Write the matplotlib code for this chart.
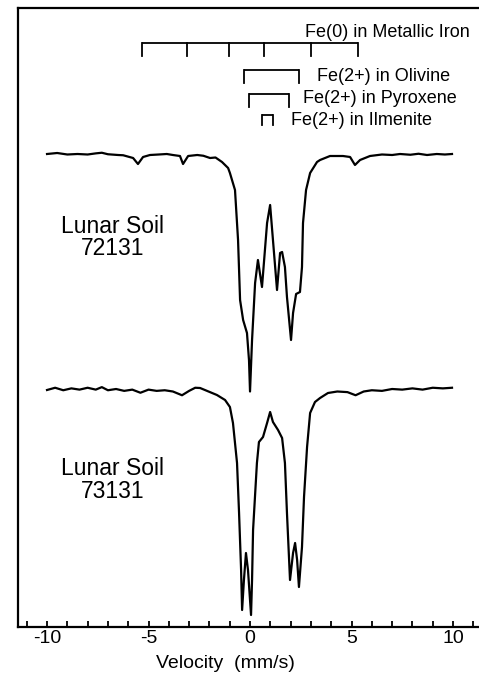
import matplotlib
matplotlib.use('Agg')
import matplotlib.pyplot as plt
import matplotlib.transforms as mtransforms
from matplotlib.ticker import MultipleLocator

plt.rcParams['font.family'] = ['Liberation Sans', 'DejaVu Sans']

# velocity (mm/s) and relative transmission (%)
v1 = [-10.0, -9.5, -9.0, -8.5, -8.0, -7.6, -7.3, -7.0, -6.5, -6.25,
      -5.76, -5.52, -5.27, -4.93, -4.5, -4.1, -3.8, -3.45, -3.3, -3.05,
      -2.6, -2.3, -1.97, -1.7, -1.38, -1.08, -0.99, -0.74, -0.59, -0.49,
      -0.34, -0.15, -0.05, 0.0, 0.1, 0.25, 0.39, 0.59, 0.84, 0.99,
      1.13, 1.33, 1.48, 1.58, 1.72, 1.82, 2.02, 2.12, 2.27, 2.46,
      2.56, 2.61, 2.76, 2.96, 3.3, 3.45, 3.94, 4.58, 4.93, 5.17,
      5.42, 5.91, 6.5, 7.0, 7.39, 7.9, 8.3, 8.72, 9.2, 9.6,
      9.95]
t1 = [100.0, 100.08, 99.96, 100.0, 99.96, 100.05, 100.1, 99.98, 99.92, 99.9,
      99.68, 99.2, 99.76, 99.92, 99.96, 100.0, 99.92, 99.84, 99.2, 99.84,
      99.92, 99.86, 99.68, 99.72, 99.36, 98.88, 98.48, 97.12, 93.12, 88.32,
      86.72, 85.68, 83.5, 81.0, 85.12, 89.68, 91.52, 89.36, 94.48, 95.92,
      93.12, 89.12, 92.08, 92.16, 90.96, 88.56, 85.12, 87.28, 88.8, 88.96,
      90.96, 94.48, 97.12, 98.48, 99.36, 99.52, 99.84, 99.84, 99.76, 99.12,
      99.52, 99.84, 99.96, 99.92, 100.0, 99.94, 100.02, 99.92, 100.0, 99.96,
      100.0]

v2 = [-10.0, -9.6, -9.2, -8.8, -8.4, -8.0, -7.6, -7.3, -7.0, -6.6,
      -6.2, -5.8, -5.4, -5.0, -4.6, -4.2, -3.8, -3.35, -3.0, -2.7,
      -2.46, -1.63, -1.23, -0.99, -0.84, -0.64, -0.54, -0.44, -0.39, -0.30,
      -0.20, -0.10, 0.05, 0.10, 0.15, 0.34, 0.44, 0.64, 0.84, 0.99,
      1.13, 1.38, 1.58, 1.72, 1.82, 1.97, 2.12, 2.22, 2.32, 2.41,
      2.56, 2.66, 2.81, 2.96, 3.20, 3.45, 3.84, 4.3, 4.8, 5.2,
      5.6, 6.0, 6.5, 7.0, 7.5, 8.0, 8.5, 9.0, 9.5, 9.95]
t2 = [99.92, 100.1, 99.9, 100.05, 99.95, 100.1, 99.95, 100.15, 99.9, 100.0,
      99.85, 99.95, 99.7, 99.95, 99.85, 99.9, 99.8, 99.5, 99.85, 100.1,
      100.08, 99.52, 99.12, 98.56, 97.28, 94.08, 90.08, 85.52, 82.32, 84.72,
      86.88, 85.52, 81.92, 84.72, 88.72, 94.08, 95.76, 96.16, 97.28, 98.16,
      97.36, 96.72, 96.08, 94.08, 90.08, 84.72, 86.88, 87.68, 86.32, 84.16,
      87.36, 91.36, 95.36, 98.08, 98.96, 99.28, 99.68, 99.8, 99.75, 99.5,
      99.8, 99.9, 99.85, 100.0, 99.95, 100.05, 99.95, 100.1, 100.05, 100.1]
offset2 = 18.8

# line positions of the stick diagram (mm/s)
iron_lines = [-5.3, -3.1, -1.05, 0.7, 3.0, 5.3]
olivine_lines = [-0.3, 2.41]
pyroxene_lines = [-0.05, 1.92]
ilmenite_lines = [0.59, 1.13]

fig = plt.figure(figsize=(4.79, 6.74), dpi=100)
ax = fig.add_axes([18 / 479, 47 / 674, 461 / 479, 619 / 674])

ax.plot(v1, t1, color='black', lw=1.6)
ax.plot(v2, [t - offset2 for t in t2], color='black', lw=1.6)

ax.set_xlim(-11.43, 11.28)
ax.set_ylim(62.16, 111.68)
ax.spines['right'].set_visible(False)
for s in ['left', 'top', 'bottom']:
    ax.spines[s].set_linewidth(1.6)
ax.set_yticks([])
ax.set_xticks([-10, -5, 0, 5, 10])
ax.set_xticklabels(['-10', '-5', '0', '5', '10'])
ax.xaxis.set_minor_locator(MultipleLocator(1))
ax.tick_params(axis='x', which='both', direction='in', length=4, width=1.3,
               labelsize=14, pad=2)
fig.text(225 / 479, 2 / 674, 'Velocity  (mm/s)', ha='center', va='bottom',
         fontsize=14)

# bracket markers
trans = mtransforms.blended_transform_factory(ax.transData, ax.transAxes)


def bracket(xs, y_top, y_bot):
    ax.plot([min(xs), max(xs)], [y_top, y_top], color='black', lw=1.3,
            transform=trans, solid_capstyle='butt')
    for x in xs:
        ax.plot([x, x], [y_top, y_bot], color='black', lw=1.3, transform=trans)


bracket(iron_lines, 0.943, 0.922)
bracket(olivine_lines, 0.900, 0.879)
bracket(pyroxene_lines, 0.861, 0.840)
bracket(ilmenite_lines, 0.827, 0.811)

ax.text(0.980, 0.961, 'Fe(0) in Metallic Iron', transform=ax.transAxes,
        ha='right', va='center', fontsize=13)
ax.text(0.649, 0.889, 'Fe(2+) in Olivine', transform=ax.transAxes,
        ha='left', va='center', fontsize=13)
ax.text(0.618, 0.853, 'Fe(2+) in Pyroxene', transform=ax.transAxes,
        ha='left', va='center', fontsize=13)
ax.text(0.592, 0.819, 'Fe(2+) in Ilmenite', transform=ax.transAxes,
        ha='left', va='center', fontsize=13)

ax.text(0.206, 0.629, 'Lunar Soil\n72131', transform=ax.transAxes,
        ha='center', va='center', multialignment='center', fontsize=16.5,
        linespacing=0.95)
ax.text(0.206, 0.2375, 'Lunar Soil\n73131', transform=ax.transAxes,
        ha='center', va='center', multialignment='center', fontsize=16.5,
        linespacing=0.95)

fig.savefig('out.png', dpi=100)
